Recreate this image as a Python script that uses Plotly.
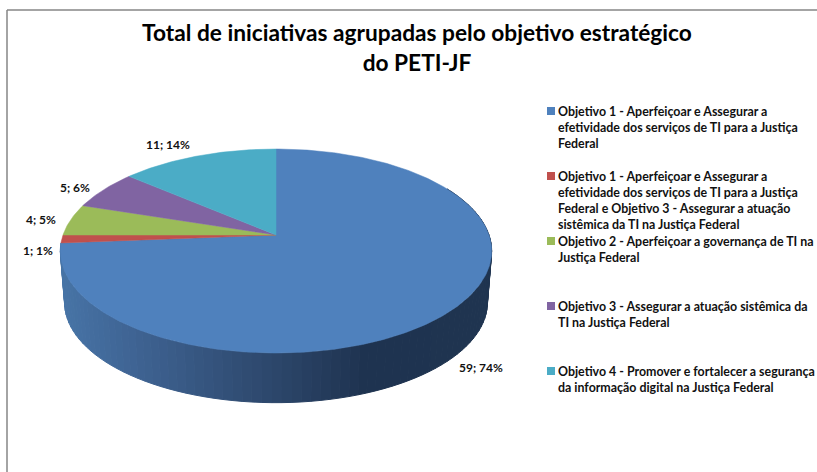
import math
import plotly.graph_objects as go

TITLE = "Total de iniciativas agrupadas pelo objetivo estratégico<br>do PETI-JF"
CATEGORIES = [
    "Objetivo 1 - Aperfeiçoar e Assegurar a<br>efetividade dos serviços de TI para a Justiça<br>Federal",
    "Objetivo 1 - Aperfeiçoar e Assegurar a<br>efetividade dos serviços de TI para a Justiça<br>Federal e Objetivo 3 - Assegurar a atuação<br>sistêmica da TI na Justiça Federal",
    "Objetivo 2 - Aperfeiçoar a governança de TI na<br>Justiça Federal",
    "Objetivo 3 - Assegurar a atuação sistêmica da<br>TI na Justiça Federal",
    "Objetivo 4 - Promover e fortalecer a segurança<br>da informação digital na Justiça Federal",
]
VALUES = [59, 1, 4, 5, 11]
COLORS = ["#4F81BD", "#C0504D", "#9BBB59", "#8064A2", "#4BACC6"]

FONT = "Lato"
TEXT = "#111111"
CX, CY, R, S, K = 276, 235, 213.0, 99.5, 0.157
DEPTH, SHRINK = 52, 0.98
LABEL_XY = [(481, 367), (38, 250), (41, 219), (75, 187), (168, 144)]
LEG_X, LEG_Y0, LEG_PITCH = 557, 103, 65
SWATCH_X = 551


def project(theta, bottom=False):
    u, v = math.sin(theta), math.cos(theta)
    x, y = R * u / (1 + K * v), -S * v / (1 + K * v)
    if bottom:
        return CX + x * SHRINK, CY + DEPTH + y * SHRINK
    return CX + x, CY + y


GRAD_X = [60, 130, 276, 365, 495]
GRAD_C = [(0x47, 0x74, 0xA6), (0x3F, 0x64, 0x94), (0x2C, 0x46, 0x6A), (0x1E, 0x33, 0x50), (0x1F, 0x34, 0x50)]


def wall_color(x):
    for i in range(len(GRAD_X) - 1):
        if x <= GRAD_X[i + 1]:
            t = max(0, (x - GRAD_X[i]) / (GRAD_X[i + 1] - GRAD_X[i]))
            c = [round(a + (b - a) * t) for a, b in zip(GRAD_C[i], GRAD_C[i + 1])]
            return "rgb(%d,%d,%d)" % tuple(c)
    return "rgb(%d,%d,%d)" % GRAD_C[-1]


total = sum(VALUES)
fig = go.Figure()

# Side wall of the first slice, split into shaded strips
end0 = 2 * math.pi * VALUES[0] / total
start = math.radians(60)
n = 90
for i in range(n):
    a = start + (end0 - start) * i / n
    b = start + (end0 - start) * (i + 1) / n
    p = [project(a), project(b), project(b, True), project(a, True), project(a)]
    col = wall_color((p[0][0] + p[1][0]) / 2)
    fig.add_trace(go.Scatter(
        x=[q[0] for q in p], y=[q[1] for q in p], mode="lines", fill="toself",
        fillcolor=col, line=dict(color=col, width=1), showlegend=False, hoverinfo="skip"))

# Top face of every slice
cum = 0
for val, col, name in zip(VALUES, COLORS, CATEGORIES):
    a0 = 2 * math.pi * cum / total
    a1 = 2 * math.pi * (cum + val) / total
    steps = max(4, int(val * 6))
    pts = [(CX, CY)] + [project(a0 + (a1 - a0) * j / steps) for j in range(steps + 1)] + [(CX, CY)]
    fig.add_trace(go.Scatter(
        x=[q[0] for q in pts], y=[q[1] for q in pts], mode="lines", fill="toself",
        fillcolor=col, line=dict(color=col, width=0.5), showlegend=False,
        name=name.replace("<br>", " "), hoverinfo="name"))
    cum += val

annotations = []
# Data labels
for val, (lx, ly) in zip(VALUES, LABEL_XY):
    annotations.append(dict(
        x=lx, y=ly, xref="x", yref="y", showarrow=False,
        text=f"{val}; {round(100 * val / total)}%",
        font=dict(family=FONT, size=12, color=TEXT, weight="bold")))

# Legend
leg_x, leg_y = [], []
for i, name in enumerate(CATEGORIES):
    y = LEG_Y0 + i * LEG_PITCH
    annotations.append(dict(
        x=LEG_X, y=y, xref="x", yref="y", xanchor="left", yanchor="top", align="left",
        showarrow=False, text=name, borderpad=0,
        font=dict(family=FONT, size=12.4, color=TEXT, weight="bold")))
    leg_x.append(SWATCH_X)
    leg_y.append(y + 8)
fig.add_trace(go.Scatter(
    x=leg_x, y=leg_y, mode="markers", showlegend=False, hoverinfo="skip",
    marker=dict(symbol="square", size=8, color=COLORS, line=dict(width=0))))

fig.update_layout(
    width=817, height=472, margin=dict(l=0, r=0, t=0, b=0),
    paper_bgcolor="white", plot_bgcolor="white",
    xaxis=dict(range=[0, 817], visible=False, fixedrange=True),
    yaxis=dict(range=[472, 0], visible=False, fixedrange=True),
    title=dict(text=TITLE, x=417 / 817, xanchor="center", y=0.913, yanchor="top",
               font=dict(family=FONT, size=22.7, color="#000000", weight="bold")),
    annotations=annotations,
    shapes=[
        dict(type="line", x0=7, x1=817, y0=10, y1=10, xref="x", yref="y", line=dict(color="#868686", width=1.5)),
        dict(type="line", x0=7, x1=7, y0=10, y1=472, xref="x", yref="y", line=dict(color="#868686", width=1.5)),
    ],
)
fig.write_html("out.html", config=dict(displayModeBar=False),
               post_script="document.body.style.margin='0';document.body.style.overflow='hidden';")
